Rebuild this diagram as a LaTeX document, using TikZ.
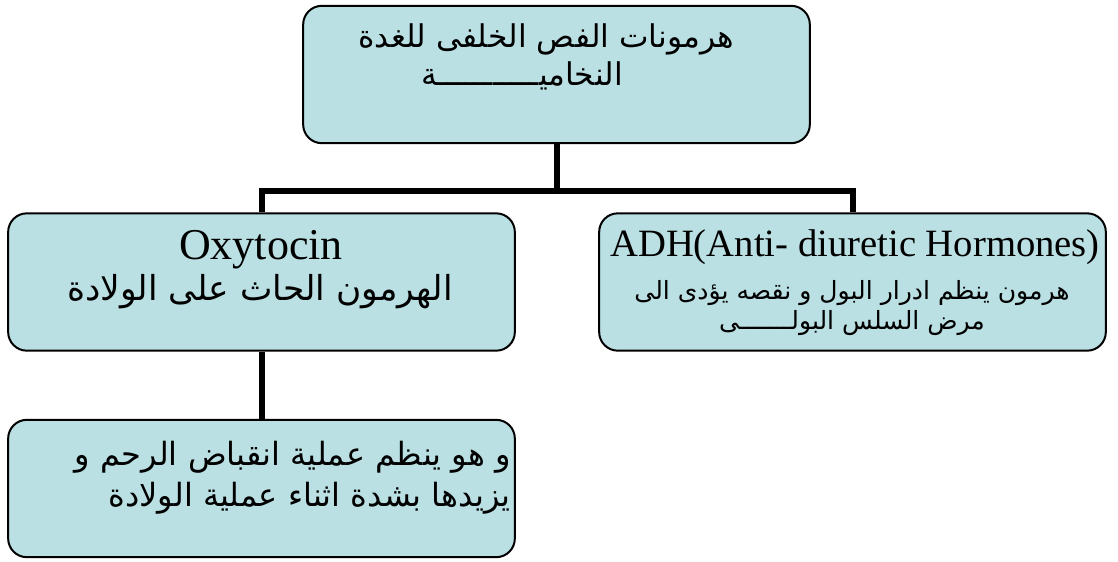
\documentclass[tikz,border=0pt]{standalone}
\usepackage{fontspec}
\setmainfont{Liberation Serif}
\newfontfamily\arabicfont[Script=Arabic]{DejaVu Sans}
\TeXXeTstate=1
\definecolor{boxfill}{RGB}{187,224,227}

\begin{document}
\begin{tikzpicture}[x=0.75pt,y=-0.75pt,
  hbox/.style={draw, line width=1.5pt, rounded corners=14pt, fill=boxfill,
    minimum width=380pt, minimum height=103pt, inner sep=0pt},
  conn/.style={line width=4.5pt},
  lbl/.style={inner sep=0pt, align=center}]
\useasboundingbox (0,0) rectangle (1118,561);
\node[hbox] (top) at (556.5,74.5) {};
\node[hbox] (oxy) at (261.5,282) {};
\node[hbox] (adh) at (852.5,282) {};
\node[hbox] (note) at (261.5,488.5) {};
\draw[conn] (top.south) -- ++(0,47) coordinate (split);
\draw[conn] (split) -| (oxy.north);
\draw[conn] (split) -| (adh.north);
\draw[conn] (oxy.south) -- (note.north);
\node[lbl, font=\arabicfont\fontsize{23.5}{28}\selectfont] (toplbl) at (546,57)
  {\beginR هرمونات الفص الخلفى للغدة\endR\\\beginR النخاميـــــــــــة\endR\hspace*{36pt}};
\node[lbl, font=\fontsize{33}{38}\selectfont] (oxyname) at (261,250) {Oxytocin};
\node[lbl, font=\arabicfont\fontsize{25.8}{30}\selectfont] (oxyrole) at (260,292)
  {\beginR الهرمون الحاث على الولادة\endR};
\node[lbl, font=\fontsize{29}{34}\selectfont] (adhname) at (855,247)
  {ADH(Anti- diuretic Hormones)};
\node[lbl, font=\arabicfont\fontsize{18.8}{23}\selectfont] (adhrole) at (852,308)
  {\beginR هرمون ينظم ادرار البول و نقصه يؤدى الى\endR\\\beginR مرض السلس البولـــــــى\endR};
\node[lbl, align=right, anchor=east, font=\arabicfont\fontsize{24}{31}\selectfont] (notetxt) at (511,478)
  {\beginR و هو ينظم عملية انقباض الرحم و\endR\\\beginR يزيدها بشدة اثناء عملية الولادة\endR};
\end{tikzpicture}
\end{document}
